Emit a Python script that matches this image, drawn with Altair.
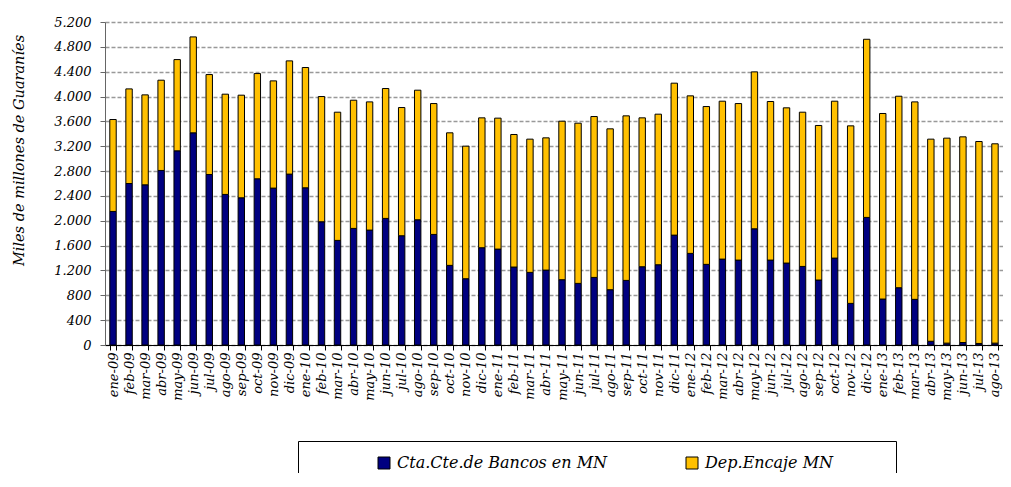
import altair as alt
import pandas as pd

months = [
    "ene-09", "feb-09", "mar-09", "abr-09", "may-09", "jun-09", "jul-09", "ago-09", "sep-09", "oct-09", "nov-09", "dic-09",
    "ene-10", "feb-10", "mar-10", "abr-10", "may-10", "jun-10", "jul-10", "ago-10", "sep-10", "oct-10", "nov-10", "dic-10",
    "ene-11", "feb-11", "mar-11", "abr-11", "may-11", "jun-11", "jul-11", "ago-11", "sep-11", "oct-11", "nov-11", "dic-11",
    "ene-12", "feb-12", "mar-12", "abr-12", "may-12", "jun-12", "jul-12", "ago-12", "sep-12", "oct-12", "nov-12", "dic-12",
    "ene-13", "feb-13", "mar-13", "abr-13", "may-13", "jun-13", "jul-13", "ago-13",
]

cta = [
    2150, 2600, 2579, 2810, 3126, 3416, 2745, 2424, 2370, 2676, 2526, 2751,
    2531, 1984, 1684, 1877, 1850, 2038, 1759, 2016, 1780, 1282, 1067, 1566,
    1544, 1255, 1169, 1206, 1051, 992, 1088, 890, 1040, 1260, 1292, 1769,
    1475, 1298, 1383, 1367, 1871, 1367, 1319, 1265, 1046, 1399, 670, 2054,
    740, 922, 735, 60, 30, 40, 25, 30,
]

dep = [
    1480, 1523, 1448, 1453, 1469, 1544, 1609, 1614, 1652, 1694, 1726, 1823,
    1936, 2016, 2064, 2064, 2064, 2091, 2064, 2086, 2107, 2134, 2134, 2091,
    2108, 2134, 2145, 2129, 2552, 2579, 2590, 2590, 2649, 2397, 2424, 2446,
    2536, 2541, 2542, 2520, 2526, 2553, 2499, 2483, 2488, 2526, 2858, 2868,
    2987, 3083, 3179, 3254, 3300, 3311, 3251, 3209,
]

series = ["Cta.Cte.de Bancos en MN", "Dep.Encaje MN"]
colors = ["#000080", "#FFC000"]
y_ticks = [0, 400, 800, 1200, 1600, 2000, 2400, 2800, 3200, 3600, 4000, 4400, 4800, 5200]

rows = []
for i, m in enumerate(months):
    rows.append({"mes": m, "serie": series[0], "valor": cta[i], "ord": 0})
    rows.append({"mes": m, "serie": series[1], "valor": dep[i], "ord": 1})
df = pd.DataFrame(rows)

FONT = "DejaVu Serif"

chart = alt.Chart(df).mark_bar(stroke="black", strokeWidth=1).encode(
    x=alt.X(
        "mes:N",
        sort=months,
        scale=alt.Scale(paddingInner=0.6, paddingOuter=0.3),
        axis=alt.Axis(
            title=None,
            labelAngle=270,
            tickBand="extent",
            tickSize=5,
            tickColor="black",
            domainColor="black",
            labelFont=FONT,
            labelFontSize=13,
            labelFontStyle="italic",
            labelColor="black",
            labelPadding=2,
            grid=False,
        ),
    ),
    y=alt.Y(
        "valor:Q",
        stack="zero",
        scale=alt.Scale(domain=[0, 5200], nice=False),
        axis=alt.Axis(
            values=y_ticks,
            labelExpr="replace(format(datum.value, ',.0f'), ',', '.')",
            title="Miles de millones de Guaraníes",
            titleFont=FONT,
            titleFontSize=14.5,
            titleFontStyle="italic",
            titleFontWeight="normal",
            titleColor="black",
            titleAngle=270,
            titleX=-79,
            titleY=128,
            titleAlign="center",
            titleBaseline="bottom",
            labelFont=FONT,
            labelFontSize=13,
            labelFontStyle="italic",
            labelColor="black",
            labelPadding=9,
            tickSize=5,
            tickColor="#666666",
            domainColor="#666666",
            grid=True,
            gridColor="#999999",
            gridDash=[4, 2],
            gridWidth=1.5,
        ),
    ),
    color=alt.Color(
        "serie:N",
        scale=alt.Scale(domain=series, range=colors),
        legend=alt.Legend(
            title="\u2003\u2003",
            titleOrient="right",
            titleFontSize=20,
            titlePadding=49,
            orient="none",
            legendX=193,
            legendY=419,
            direction="horizontal",
            strokeColor="black",
            fillColor="white",
            padding=14,
            symbolType="square",
            symbolSize=144,
            symbolStrokeColor="black",
            symbolStrokeWidth=1,
            symbolOffset=64,
            labelOffset=5,
            labelFont=FONT,
            labelFontSize=16,
            labelFontStyle="italic",
            labelColor="black",
            labelLimit=400,
            columnPadding=12,
        ),
    ),
    order=alt.Order("ord:Q", sort="ascending"),
).properties(
    width=898,
    height=323,
    padding={"left": 97, "top": 14, "right": 0, "bottom": 128},
    autosize=alt.AutoSizeParams(type="none"),
    background="white",
).configure_view(stroke=None)

chart.save("out.html", embed_options={"renderer": "svg", "actions": False})
